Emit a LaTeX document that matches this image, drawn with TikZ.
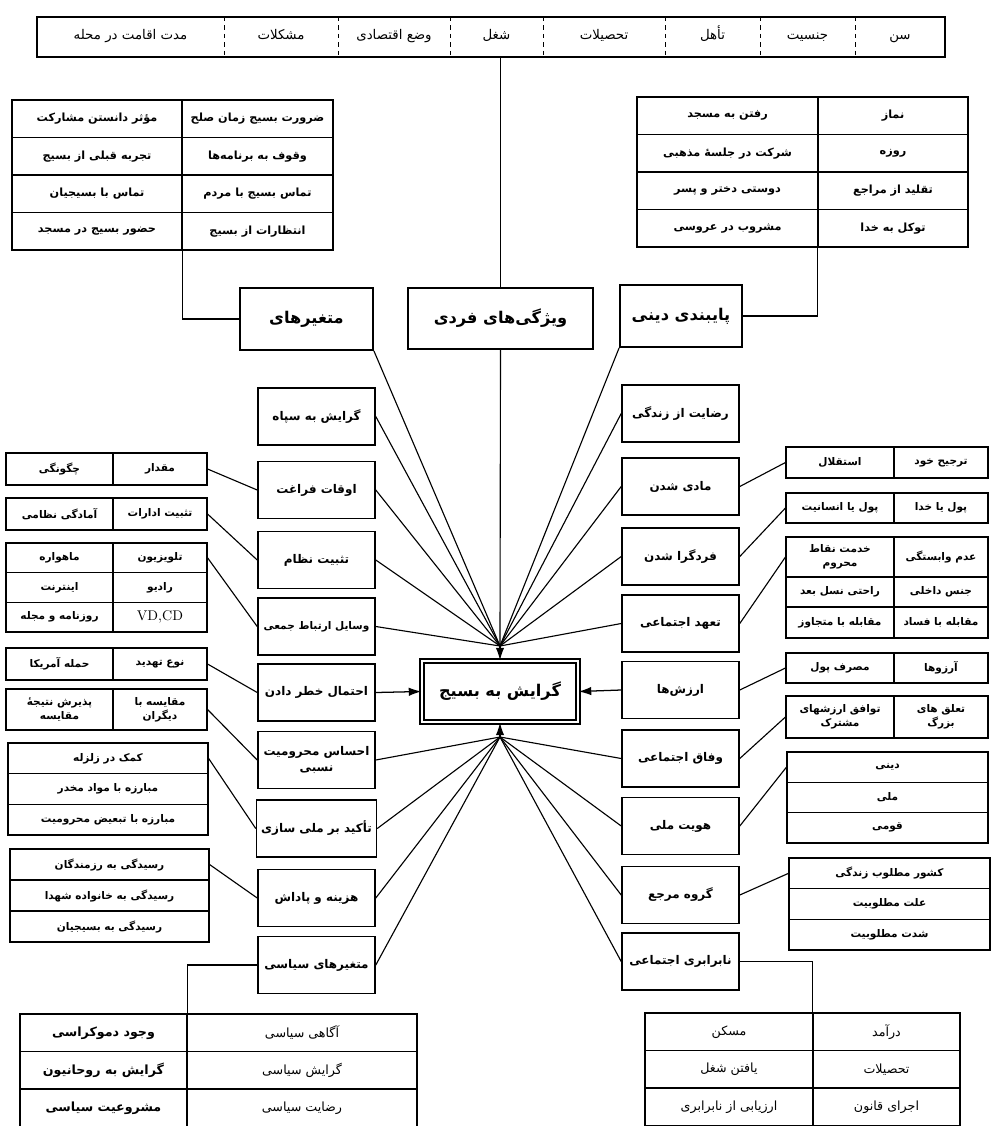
\documentclass[tikz,border=0pt]{standalone}
\usepackage{fontspec}
\usepackage{tikz}
\usetikzlibrary{arrows.meta}
\newfontfamily\fafont[Script=Arabic]{DejaVu Sans}
\TeXXeTstate=1
\newcommand{\fa}[1]{{\fafont\beginR #1\endR}}

\begin{document}
\begin{tikzpicture}[x=0.025cm,y=-0.025cm,
  mybox/.style={draw,line width=1.1pt,minimum width=2.925cm,minimum height=1.425cm,align=center,font=\fontsize{8.5}{12}\selectfont\bfseries},
  mainbox/.style={draw,line width=1.3pt,font=\fontsize{11.5}{14}\selectfont\bfseries},
  mycell/.style 2 args={draw,line width=0.8pt,inner sep=1pt,align=center,minimum width=#1*0.025cm,minimum height=#2*0.025cm,font=\fontsize{7.5}{10}\selectfont\bfseries},
  link/.style={line width=0.8pt},
  myarrow/.style={line width=0.9pt,-{Latex[length=9pt,width=6pt]}}]
\useasboundingbox (0,0) rectangle (991,1126);

% top bar
\node[draw,line width=1.1pt,minimum width=908*0.025cm,minimum height=40*0.025cm] (bar) at (491,37) {};
\foreach \x in {224,338,450,543,665,760,855}
  {\draw[dashed,line width=0.6pt] (\x,17) -- (\x,57);}
\foreach \x/\t [count=\k] in {130.5/مدت اقامت در محله,281/مشکلات,394/وضع اقتصادی,496.5/شغل,604/تحصیلات,712.5/تأهل,807.5/جنسیت,900/سن}
  {\node[font=\fontsize{9.5}{11}\selectfont,text height=1.5ex,text depth=0.6ex] (top\k) at (\x,37) {\fa{\t}};}

% upper tables
\foreach \a/\b [count=\k] in {مؤثر دانستن مشارکت/ضرورت بسیج زمان صلح,تجربه قبلی از بسیج/وقوف به برنامه^^^^200cها,تماس با بسیجیان/تماس بسیج با مردم,حضور بسیج در مسجد/انتظارات از بسیج}
  {\node[mycell={170}{37.5},font=\fontsize{8}{10}\selectfont\bfseries] (ula\k) at (97,81.25+37.5*\k) {\fa{\a}};
   \node[mycell={151}{37.5},font=\fontsize{8}{10}\selectfont\bfseries] (ulb\k) at (257.5,81.25+37.5*\k) {\fa{\b}};}
\foreach \a/\b [count=\k] in {رفتن به مسجد/نماز,شرکت در جلسهٔ مذهبی/روزه,دوستی دختر و پسر/تقلید از مراجع,مشروب در عروسی/توکل به خدا}
  {\node[mycell={181}{37.5},font=\fontsize{8}{10}\selectfont\bfseries] (ura\k) at (727.5,78.25+37.5*\k) {\fa{\a}};
   \node[mycell={150}{37.5},font=\fontsize{8}{10}\selectfont\bfseries] (urb\k) at (893,78.25+37.5*\k) {\fa{\b}};}

% main boxes
\node[mainbox,minimum width=133*0.025cm,minimum height=62*0.025cm] (mo) at (306.5,319) {\fa{متغیرهای}};
\node[mainbox,minimum width=185*0.025cm,minimum height=61*0.025cm] (fd) at (500.5,318.5) {\fa{ویژگی^^^^200cهای فردی}};
\node[mainbox,minimum width=122*0.025cm,minimum height=62*0.025cm] (pd) at (681,316) {\fa{پایبندی دینی}};
\node[mainbox,double,double distance=2pt,line width=0.8pt,minimum width=156*0.025cm,minimum height=61*0.025cm] (gerayesh) at (500,691.5) {\fa{گرایش به بسیج}};
\draw[link] (bar.south -| fd.north) -- (fd.north);
\draw[link] (ula4.south east) |- (mo.west);
\draw[link] (urb4.south west) |- (pd.east);

% left boxes
\node[mybox] (sepah) at (316.5,416.5) {\fa{گرایش به سپاه}};
\node[mybox] (faraghat) at (316.5,490) {\fa{اوقات فراغت}};
\node[mybox] (nezam) at (316.5,560) {\fa{تثبیت نظام}};
\node[mybox,font=\fontsize{7.5}{10}\selectfont\bfseries] (rasane) at (316.5,626.5) {\fa{وسایل ارتباط جمعی}};
\node[mybox] (khatar) at (316.5,692.5) {\fa{احتمال خطر دادن}};
\node[mybox] (mahrumiat) at (316.5,760) {\fa{احساس محرومیت}\\\fa{نسبی}};
\node[mybox] (melli) at (316.5,828.5) {\fa{تأکید بر ملی سازی}};
\node[mybox] (hazine) at (316.5,898) {\fa{هزینه و پاداش}};
\node[mybox] (siasi) at (316.5,965) {\fa{متغیرهای سیاسی}};

% right boxes
\node[mybox] (rezayat) at (680.5,413.5) {\fa{رضایت از زندگی}};
\node[mybox] (madi) at (680.5,486.5) {\fa{مادی شدن}};
\node[mybox] (fardgara) at (680.5,556.5) {\fa{فردگرا شدن}};
\node[mybox] (taahod) at (680.5,623.5) {\fa{تعهد اجتماعی}};
\node[mybox] (arzesh) at (680.5,690) {\fa{ارزش^^^^200cها}};
\node[mybox] (vefagh) at (680.5,758.5) {\fa{وفاق اجتماعی}};
\node[mybox] (hoviat) at (680.5,826) {\fa{هویت ملی}};
\node[mybox] (marja) at (680.5,895) {\fa{گروه مرجع}};
\node[mybox] (nabarabari) at (680.5,961.5) {\fa{نابرابری اجتماعی}};

% arrows to the centre
\coordinate (tp) at (500,646);
\coordinate (bp) at (500,737);
\foreach \n in {sepah,faraghat,nezam,rasane}
  {\draw[link] (\n.east) -- (tp);}
\foreach \n in {rezayat,madi,fardgara,taahod}
  {\draw[link] (\n.west) -- (tp);}
\draw[link] (mo.south east) -- (tp);
\draw[link] (fd.south) -- (tp);
\draw[link] (pd.south west) -- (tp);
\draw[myarrow] (tp) -- (gerayesh.north);
\foreach \n in {mahrumiat,melli,hazine,siasi}
  {\draw[link] (\n.east) -- (bp);}
\foreach \n in {vefagh,hoviat,marja,nabarabari}
  {\draw[link] (\n.west) -- (bp);}
\draw[myarrow] (bp) -- (gerayesh.south);
\draw[myarrow] (khatar.east) -- (gerayesh.west);
\draw[myarrow] (arzesh.west) -- (gerayesh.east);

% left side tables
\node[mycell={94}{32}] (t1a) at (160,469) {\fa{مقدار}};
\node[mycell={107}{32}] (t1b) at (59.5,469) {\fa{چگونگی}};
\node[mycell={94}{32}] (t2a) at (160,514) {\fa{تثبیت ادارات}};
\node[mycell={107}{32}] (t2b) at (59.5,514) {\fa{آمادگی نظامی}};
\node[mycell={94}{29.7}] (t3a1) at (160,557.8) {\fa{تلویزیون}};
\node[mycell={107}{29.7}] (t3b1) at (59.5,557.8) {\fa{ماهواره}};
\node[mycell={94}{29.7}] (t3a2) at (160,587.5) {\fa{رادیو}};
\node[mycell={107}{29.7}] (t3b2) at (59.5,587.5) {\fa{اینترنت}};
\node[mycell={94}{29.7},font=\fontsize{10}{12}\selectfont] (t3a3) at (160,617.2) {VD,CD};
\node[mycell={107}{29.7}] (t3b3) at (59.5,617.2) {\fa{روزنامه و مجله}};
\node[mycell={94}{32}] (t4a) at (160,664) {\fa{نوع تهدید}};
\node[mycell={107}{32}] (t4b) at (59.5,664) {\fa{حمله آمریکا}};
\node[mycell={94}{41}] (t5a) at (160,709.5) {\fa{مقایسه با}\\\fa{دیگران}};
\node[mycell={107}{41}] (t5b) at (59.5,709.5) {\fa{پذیرش نتیجهٔ}\\\fa{مقایسه}};
\foreach \t [count=\k] in {کمک در زلزله,مبارزه با مواد مخدر,مبارزه با تبعیض محرومیت}
  {\node[mycell={200}{30.67}] (t6r\k) at (108,727.67+30.67*\k) {\fa{\t}};}
\foreach \t [count=\k] in {رسیدگی به رزمندگان,رسیدگی به خانواده شهدا,رسیدگی به بسیجیان}
  {\node[mycell={199}{31}] (t7r\k) at (109.5,833.5+31*\k) {\fa{\t}};}
\draw[link] (t1a.east) -- (faraghat.west);
\draw[link] (t2a.east) -- (nezam.west);
\draw[link] (t3a1.east) -- (rasane.west);
\draw[link] (t4a.east) -- (khatar.west);
\draw[link] (t5a.east) -- (mahrumiat.west);
\draw[link] (t6r1.east) -- (melli.west);
\draw[link] (t7r1.east) -- (hazine.west);

% right side tables
\node[mycell={94}{31}] (r1a) at (941,462.5) {\fa{ترجیح خود}};
\node[mycell={108}{31}] (r1b) at (840,462.5) {\fa{استقلال}};
\node[mycell={94}{30}] (r2a) at (941,508) {\fa{پول یا خدا}};
\node[mycell={108}{30}] (r2b) at (840,508) {\fa{پول یا انسانیت}};
\node[mycell={94}{40}] (r3a1) at (941,557) {\fa{عدم وابستگی}};
\node[mycell={108}{40}] (r3b1) at (840,557) {\fa{خدمت نقاط}\\\fa{محروم}};
\node[mycell={94}{30}] (r3a2) at (941,592) {\fa{جنس داخلی}};
\node[mycell={108}{30}] (r3b2) at (840,592) {\fa{راحتی نسل بعد}};
\node[mycell={94}{31}] (r3a3) at (941,622.5) {\fa{مقابله با فساد}};
\node[mycell={108}{31}] (r3b3) at (840,622.5) {\fa{مقابله با متجاوز}};
\node[mycell={94}{30}] (r4a) at (941,668) {\fa{آرزوها}};
\node[mycell={108}{30}] (r4b) at (840,668) {\fa{مصرف پول}};
\node[mycell={94}{42}] (r5a) at (941,717) {\fa{تعلق های}\\\fa{بزرگ}};
\node[mycell={108}{42}] (r5b) at (840,717) {\fa{توافق ارزشهای}\\\fa{مشترک}};
\foreach \t [count=\k] in {دینی,ملی,قومی}
  {\node[mycell={201}{30.33}] (r6r\k) at (887.5,736.83+30.33*\k) {\fa{\t}};}
\foreach \t [count=\k] in {کشور مطلوب زندگی,علت مطلوبیت,شدت مطلوبیت}
  {\node[mycell={201}{30.67}] (r7r\k) at (889.5,842.67+30.67*\k) {\fa{\t}};}
\draw[link] (r1b.west) -- (madi.east);
\draw[link] (r2b.west) -- (fardgara.east);
\draw[link] (r3b1.west) -- (taahod.east);
\draw[link] (r4b.west) -- (arzesh.east);
\draw[link] (r5b.west) -- (vefagh.east);
\draw[link] (r6r1.west) -- (hoviat.east);
\draw[link] (r7r1.west) -- (marja.east);

% bottom tables
\foreach \a/\b [count=\k] in {وجود دموکراسی/آگاهی سیاسی,گرایش به روحانیون/گرایش سیاسی,مشروعیت سیاسی/رضایت سیاسی}
  {\node[mycell={167}{37.5},font=\fontsize{9}{11}\selectfont\bfseries] (bla\k) at (103.5,995.25+37.5*\k) {\fa{\a}};
   \node[mycell={230}{37.5},font=\fontsize{9}{11}\selectfont] (blb\k) at (302,995.25+37.5*\k) {\fa{\b}};}
\foreach \a/\b [count=\k] in {مسکن/درآمد,یافتن شغل/تحصیلات,ارزیابی از نابرابری/اجرای قانون}
  {\node[mycell={168}{37.5},font=\fontsize{9}{11}\selectfont] (bra\k) at (729,994.25+37.5*\k) {\fa{\a}};
   \node[mycell={147}{37.5},font=\fontsize{9}{11}\selectfont] (brb\k) at (886.5,994.25+37.5*\k) {\fa{\b}};}
\draw[link] (siasi.west) -| (bla1.north east);
\draw[link] (nabarabari.east) -| (brb1.north west);
\end{tikzpicture}
\end{document}
